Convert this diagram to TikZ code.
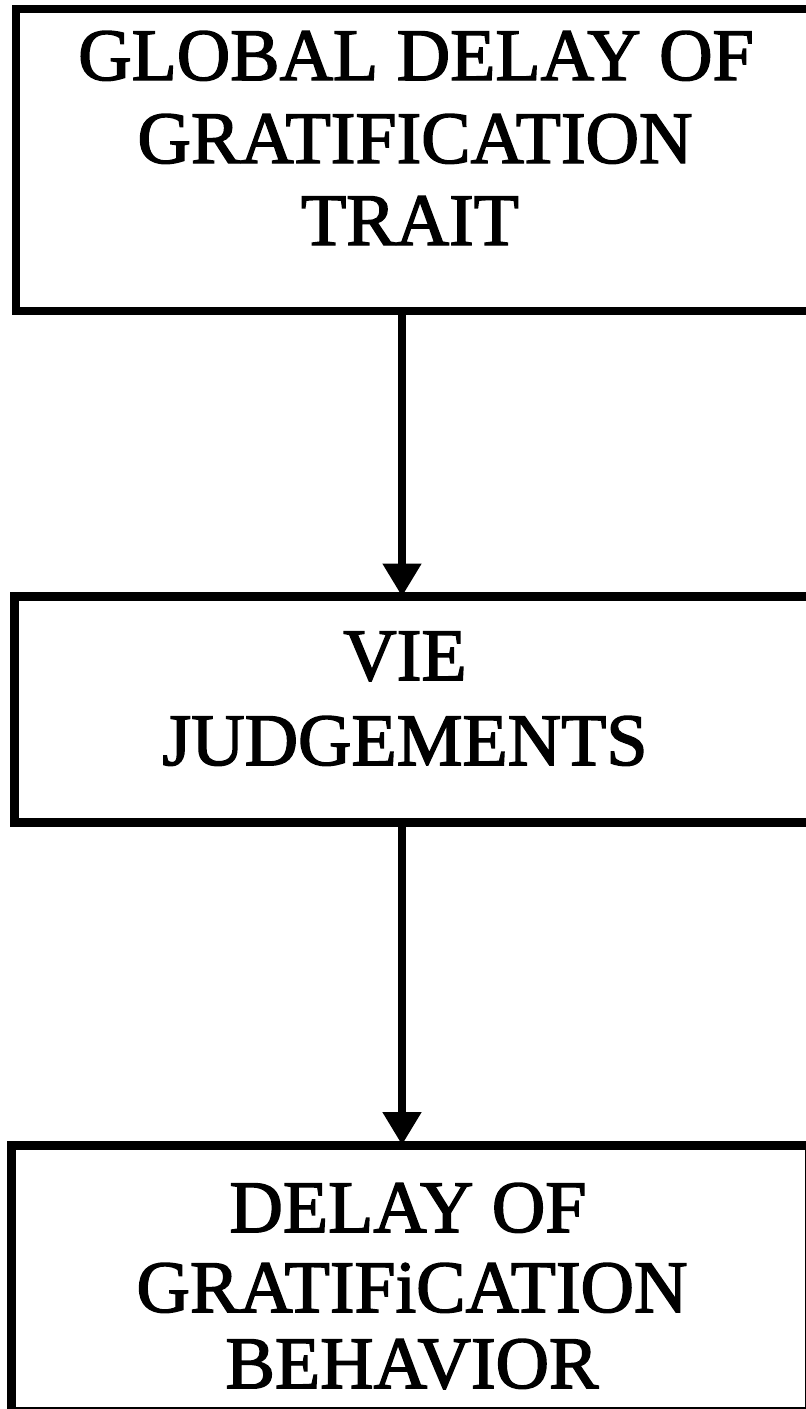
\documentclass[tikz,border=0pt]{standalone}
\usepackage{fontspec}
\setmainfont{Liberation Serif}[FakeBold=2]
\usetikzlibrary{arrows.meta}
\begin{document}
\begin{tikzpicture}[x=1pt,y=1pt,
  box/.style={draw=black,fill=none,inner sep=0pt,outer sep=0pt},
  lbl/.style={anchor=base,inner sep=0pt,font=\fontsize{74}{83}\selectfont},
  arr/.style={draw=black,line width=8pt,-{Triangle[width=37pt,length=33pt]}}]
\useasboundingbox (0,0) rectangle (806,-1409);
\fill[white] (0,0) rectangle (806,-1409);
% boxes
\node[box,line width=8pt,minimum width=804pt,minimum height=302pt] (top) at (418,-160) {};
\node[box,line width=9pt,minimum width=803.5pt,minimum height=226pt] (mid) at (416.25,-709.5) {};
\node[box,line width=9pt,minimum width=798pt,minimum height=266pt] (bot) at (410.5,-1278) {};
% texts
\node[lbl] (t1) at (416,-80) {GLOBAL DELAY OF};
\node[lbl] (t2) at (415,-163) {GRATIFICATION};
\node[lbl] (t3) at (410,-245) {TRAIT};
\node[lbl] (m1) at (405,-680) {VIE};
\node[lbl] (m2) at (405,-765) {JUDGEMENTS};
\node[lbl] (b1) at (408,-1232) {DELAY OF};
\node[lbl] (b2) at (412,-1312) {GRATIFiCATION};
\node[lbl] (b3) at (412,-1388) {BEHAVIOR};
% arrows
\coordinate (ax) at (402,0);
\draw[arr] (top.south -| ax) -- (mid.north -| ax);
\draw[arr] (mid.south -| ax) -- (bot.north -| ax);
\end{tikzpicture}
\end{document}
